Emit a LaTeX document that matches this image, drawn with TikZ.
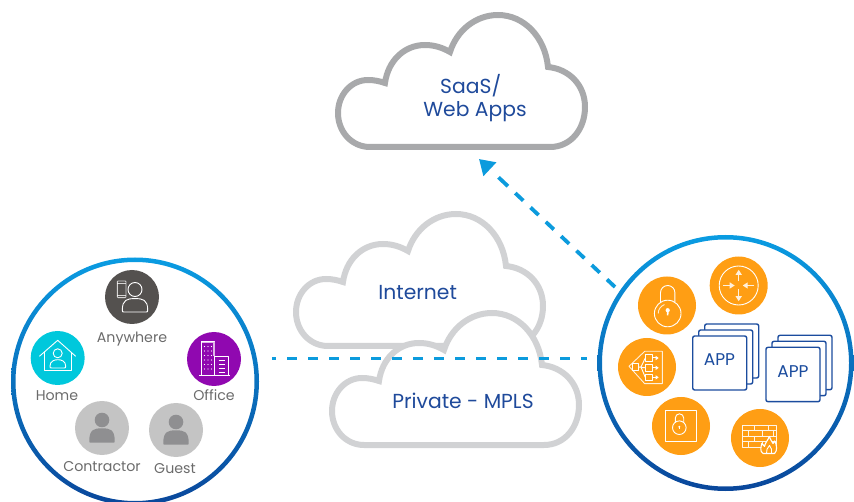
\documentclass[tikz,border=0pt]{standalone}
\usepackage{fontspec}
\setmainfont{Poppins}
\usetikzlibrary{arrows.meta}
\definecolor{saasgray}{HTML}{A8A9AB}
\definecolor{cloudgray}{HTML}{D1D2D4}
\definecolor{linkblue}{HTML}{0C9BDD}
\definecolor{inkblue}{HTML}{1F4A9B}
\definecolor{stackblue}{HTML}{1B4C9E}
\definecolor{labelgray}{HTML}{6B6B6B}
\definecolor{ringtop}{HTML}{0A9CE2}
\definecolor{ringmid}{HTML}{0080C8}
\definecolor{ringbot}{HTML}{0A479B}
\definecolor{darkdisc}{HTML}{54514F}
\definecolor{cyandisc}{HTML}{00C8DC}
\definecolor{purpledisc}{HTML}{9008B0}
\definecolor{graydisc}{HTML}{C4C4C4}
\definecolor{grayperson}{HTML}{8F8F91}
\definecolor{orangedisc}{HTML}{FF9E14}
\newcommand{\bustpath}[4]{(#1,#4-2) .. controls (#1,#3+1) and (#1+5,#3) .. ({(#1+#2)/2},#3) .. controls (#2-5,#3) and (#2,#3+1) .. (#2,#4-2) .. controls (#2,#4) .. (#2-2,#4) -- (#1+2,#4) .. controls (#1,#4) .. cycle}
\tikzset{
  x=1pt,y=-1pt,
  cloudshape/.pic={
    \path[line width=6pt,fill=white,miter limit=4,pic actions]
      (32,132) -- (212,132)
      .. controls (233,132) and (247,114) .. (247,92)
      .. controls (247,70) and (231,54) .. (210,52)
      .. controls (207,22) and (186,0) .. (160,0)
      .. controls (138,0) and (119,15) .. (112,37)
      .. controls (105,33) and (97,30) .. (87,30)
      .. controls (66,30) and (50,46) .. (47,68)
      .. controls (41,66) and (36,65) .. (30,65)
      .. controls (13,65) and (0,80) .. (0,98)
      .. controls (0,117) and (14,132) .. (32,132) -- cycle;
  },
  cloudtext/.style={anchor=base,inner sep=0pt,text=inkblue,font=\fontsize{20.3}{24}\selectfont},
  sitetext/.style={anchor=base,inner sep=0pt,text=labelgray,font=\fontsize{14.2}{17}\selectfont},
  apptext/.style={anchor=base,inner sep=0pt,text=stackblue,font=\fontsize{17}{20}\selectfont},
  disc/.style={circle,minimum size=#1,inner sep=0pt,draw=none},
  link/.style={draw=linkblue,line width=3.8pt},
  icon/.style={draw=white,line width=.9pt,line join=round},
  card/.style={draw=stackblue,line width=1.4pt,fill=white,rounded corners=2pt},
  anywhereicon/.pic={
    \draw[icon] (3,-7.5) circle (7);
    \draw[icon] \bustpath{-9.7}{15.7}{1.6}{15};
    \draw[icon,rounded corners=.8pt,draw opacity=.75] (-14.7,-16) rectangle (-6,.6);
    \draw[icon,draw opacity=.75] (-14.7,-13.5) -- (-6,-13.5) (-14.7,-1.5) -- (-6,-1.5);
  },
  homeicon/.pic={
    \draw[icon] (-18.3,-1.7) -- (0,-17.7) -- (18,-1.7);
    \draw[icon] (-13.3,-6) -- (-13.3,12.7) -- (13.3,12.7) -- (13.3,-6);
    \draw[icon] (0,-4.7) circle (4.5);
    \draw[icon] \bustpath{-7.7}{8}{1.7}{10};
  },
  officeicon/.pic={
    \draw[icon] (-15,16.7) -- (15.7,16.7);
    \draw[icon,line width=1pt] (-12.7,16.7) -- (-12.7,-17.3) -- (.7,-17.3) -- (.7,-2.7);
    \draw[white!70!purpledisc,line width=1.6pt] (.1,-16.5) -- (.1,-3);
    \draw[white!70!purpledisc,line width=1.6pt] (-12,-16.5) -- (-.5,-16.5);
    \foreach \r in {-12.5,-8,-3.5,1,5.5,10}
      \foreach \c in {-9.5,-6,-2.5}
        \fill[white] (\c,\r) circle (.6);
    \draw[icon,line width=1pt] (.7,-2.7) -- (14,-2.7) -- (14,16.7) (.7,-2.7) -- (.7,16.7);
    \foreach \r in {1.5,5.5,9.5,13.5}
      \draw[white,line width=.9pt] (4.5,\r) -- (11,\r);
  },
  lockicon/.pic={
    \draw[icon] (.7,8) circle (13.3);
    \draw[icon] (-6.5,-3.5) -- (-6.5,-12.8) arc[start angle=180,end angle=360,radius=7.2] -- (7.9,-3.5);
    \draw[icon,draw opacity=.8] (-8.8,8) arc[start angle=180,end angle=250,radius=9.5];
    \fill[white] (.7,4.7) circle (2.1);
    \fill[white] (-.3,5) -- (1.7,5) -- (1.4,10) -- (0,10) -- cycle;
  },
  routericon/.pic={
    \draw[icon] (0,0) circle (19.5);
    \draw[white!85!orangedisc,line width=1.3pt,-{Triangle[length=5pt,width=6pt]}] (-15.7,0) -- (-4,0);
    \draw[white!85!orangedisc,line width=1.3pt,-{Triangle[length=5pt,width=6pt]}] (15.7,0) -- (4,0);
    \draw[white!85!orangedisc,line width=1.3pt,-{Triangle[length=5pt,width=6pt]}] (0,-4) -- (0,-15.7);
    \draw[white!85!orangedisc,line width=1.3pt,-{Triangle[length=5pt,width=6pt]}] (0,4) -- (0,15.7);
  },
  lbicon/.pic={
    \draw[icon,draw opacity=.85] (15.3,-15.7) -- (-2.3,-15.7) -- (-18,-.7) -- (-2.3,16.7) -- (15.3,16.7) -- cycle;
    \draw[icon] (-14.3,-3.2) rectangle (-8.3,3);
    \draw[icon] (-1.7,-12.3) rectangle (5,-6);
    \draw[icon] (-1.7,-2.2) rectangle (5,4);
    \draw[icon] (-1.7,7.3) rectangle (5,13.5);
    \draw[icon] (-8.3,0) -- (-1.7,.8) (-6,0) -- (-1.7,-9) (-6,0) -- (-1.7,10.4);
    \foreach \r in {-9,.8,10.4}
      \draw[white,line width=1pt,-{Triangle[length=3pt,width=4pt]}] (5,\r) -- (11.7,\r);
  },
  hsmicon/.pic={
    \draw[icon] (-15.7,-15.7) rectangle (15.7,15.7);
    \draw[icon] (-1.7,1.7) circle (6.8);
    \draw[icon] (-5.7,-3.5) -- (-5.7,-8) arc[start angle=180,end angle=360,radius=4.2] -- (2.7,-3.5);
    \fill[white] (-1.7,.8) circle (1.1);
    \fill[white] (-2.2,.8) rectangle (-1.2,3.2);
  },
  wallicon/.pic={
    \draw[icon,draw opacity=.9]
      (-17.3,-12.7) rectangle (16.7,9.3)
      (-17.3,-7.2) -- (16.7,-7.2)
      (-17.3,-1.8) -- (16.7,-1.8)
      (-17.3,3.8) -- (16.7,3.8)
      (-6,-12.7) -- (-6,-7.2) (8,-12.7) -- (8,-7.2)
      (-11.5,-7.2) -- (-11.5,-1.8) (2,-7.2) -- (2,-1.8) (13,-7.2) -- (13,-1.8)
      (-6,-1.8) -- (-6,3.8) (8,-1.8) -- (8,3.8)
      (-11.5,3.8) -- (-11.5,9.3) (2,3.8) -- (2,9.3);
    \filldraw[icon,fill=orangedisc,line width=1.1pt]
      (3,15.5) .. controls (-.5,13) and (1,9) .. (1.8,5.5)
      .. controls (3.5,7) and (4,8) .. (4.5,8.5)
      .. controls (5,5) and (8,2) .. (9.5,-1.5)
      .. controls (10.5,2) and (12,3.5) .. (13,5.5)
      .. controls (14,4.5) and (14.5,4) .. (14.7,3)
      .. controls (17,7) and (17.5,13) .. (14.5,15.5) -- cycle;
    \draw[icon] (6.5,15.2) .. controls (5.5,12) and (8,10) .. (9.5,7.5)
      .. controls (10.5,10) and (13,12) .. (11.5,15.2);
  }
}
\begin{document}
\begin{tikzpicture}[x=1pt,y=-1pt]
\useasboundingbox (0,0) rectangle (854,502);

% clouds
\pic[draw=saasgray] at (338,15) {cloudshape};
\pic[draw=cloudgray] at (296,214) {cloudshape};
\pic[draw=cloudgray] at (332,313) {cloudshape};
\node[cloudtext] (saastext1) at (470.7,93.3) {SaaS/};
\node[cloudtext] (saastext2) at (475,116.7) {Web Apps};
\node[cloudtext] (inettext) at (417.7,300) {Internet};
\node[cloudtext] (mplstext) at (463,409) {Private - MPLS};

% connectors
\coordinate (linkL) at (272,358.5);
\coordinate (linkR) at (587,358.5);
\coordinate (upFrom) at (615,287);
\coordinate (upTip) at (479,159);
\draw[link,dash pattern=on 10pt off 11pt,dash phase=5.7pt] (linkL) -- (linkR);
\draw[link,dash pattern=on 11pt off 10pt on 11pt off 10pt on 11pt off 10pt on 11pt off 10pt on 11pt off 10pt on 11pt off 10pt on 11pt off 10pt on 13pt off 40pt,
  -{Triangle[length=15pt,width=18pt]}] (upFrom) -- (upTip);

% rings
\path[even odd rule,top color=ringtop,middle color=ringmid,bottom color=ringbot]
  (135,381.5) circle (124) circle (119.5);
\path[even odd rule,top color=ringtop,middle color=ringmid,bottom color=ringbot]
  (725.5,363) circle (128) circle (123.5);

% site discs
\node[disc=54pt,fill=darkdisc] (anywhere) at (132,297) {};
\node[disc=54pt,fill=cyandisc] (home) at (57.7,358) {};
\node[disc=54pt,fill=purpledisc] (office) at (214,359) {};
\node[disc=54pt,fill=graydisc] (contractor) at (102,428) {};
\node[disc=54pt,fill=graydisc] (guest) at (176,430) {};
\pic at (anywhere) {anywhereicon};
\pic at (home) {homeicon};
\pic at (office) {officeicon};
\foreach \p in {contractor,guest}{
  \fill[grayperson] ([shift={(0,-8)}]\p.center) circle (7.3);
  \begin{scope}[shift={(\p.center)}]
    \fill[grayperson] \bustpath{-12.7}{12.7}{.3}{14.7};
  \end{scope}
}
\node[sitetext] (anywherelabel) at (132,342.3) {Anywhere};
\node[sitetext] (homelabel) at (57,400) {Home};
\node[sitetext] (officelabel) at (214,400) {Office};
\node[sitetext] (contractorlabel) at (102,471.7) {Contractor};
\node[sitetext] (guestlabel) at (175,473.3) {Guest};

% hub discs
\node[disc=58pt,fill=orangedisc] (router) at (738.7,285.5) {};
\node[disc=58pt,fill=orangedisc] (lock) at (667,305.5) {};
\node[disc=58pt,fill=orangedisc] (balancer) at (647,367) {};
\node[disc=58pt,fill=orangedisc] (hsm) at (681,426) {};
\node[disc=58pt,fill=orangedisc] (firewall) at (760,438) {};
\pic at (router) {routericon};
\pic at (lock) {lockicon};
\pic at (balancer) {lbicon};
\pic at (hsm) {hsmicon};
\pic at (firewall) {wallicon};

% app stacks
\foreach \ox/\oy in {12/-12,6/-6,0/0}{
  \draw[card] (692.7+\ox,336+\oy) rectangle (746.7+\ox,390+\oy);
  \draw[card] (766+\ox,347.3+\oy) rectangle (820+\ox,401.7+\oy);
}
\node[apptext] (app1) at (719.5,366) {APP};
\node[apptext] (app2) at (793,377.7) {APP};
\end{tikzpicture}
\end{document}
